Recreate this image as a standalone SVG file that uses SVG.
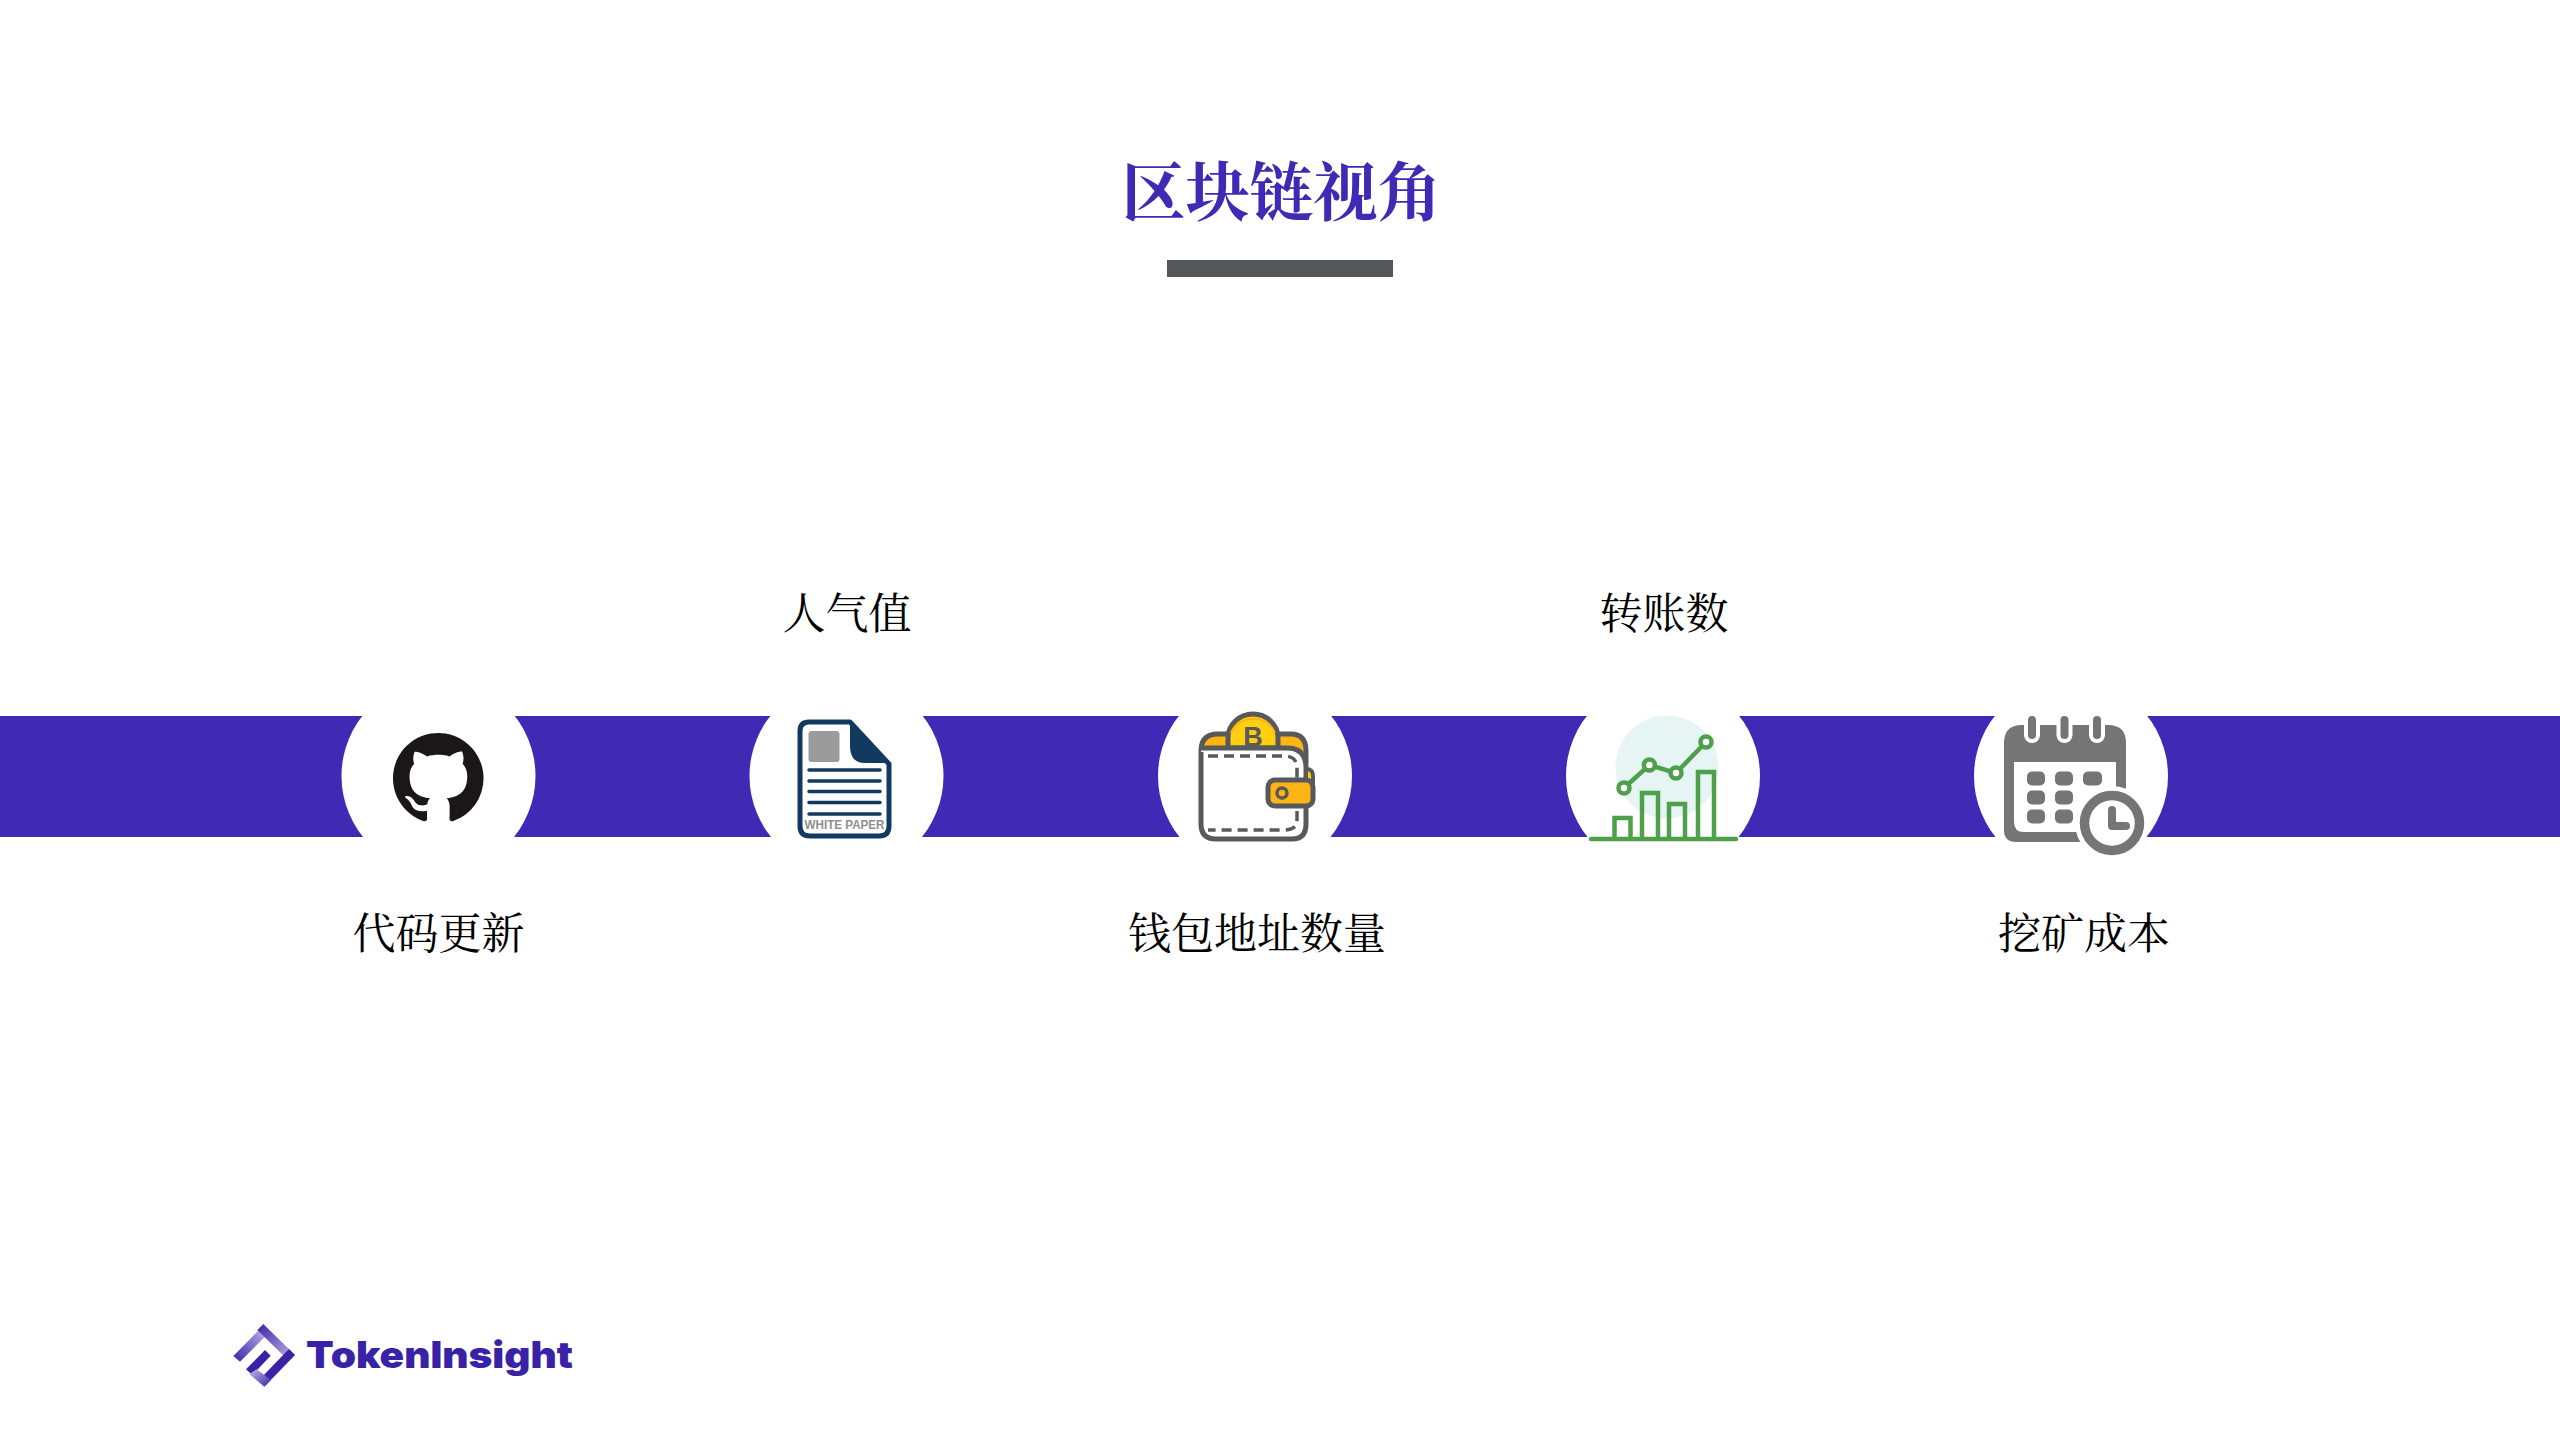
<svg xmlns="http://www.w3.org/2000/svg" width="2560" height="1440" viewBox="0 0 2560 1440">
<style>
.cjk{font-family:"Noto Serif CJK SC","Noto Sans CJK SC",serif;text-anchor:middle}
.title{font-size:64px;font-weight:700;fill:#3f2ab5}
.label{font-size:43px;fill:#000}
.hole{fill:#fff}
.dash{fill:none;stroke:#58595b;stroke-width:3.5;stroke-dasharray:10 6}
.green{fill:none;stroke:#4fa04a;stroke-width:4.5}
.pt{fill:#fff;stroke:#4fa04a;stroke-width:4.5}
.paper{stroke:#123a60;stroke-width:3.5;stroke-linecap:round}
.cal{fill:#757575}
</style>
<defs>
<linearGradient id="ga" x1="0" y1="1" x2="1" y2="0"><stop offset="0" stop-color="#3a22a8"/><stop offset="1" stop-color="#b8aee4"/></linearGradient>
<linearGradient id="gb" x1="0" y1="0" x2="1" y2="1"><stop offset="0" stop-color="#3a22a8"/><stop offset="1" stop-color="#c4bcea"/></linearGradient>
<linearGradient id="gd" x1="0" y1="0" x2="1" y2="1"><stop offset="0" stop-color="#c4bcea"/><stop offset="1" stop-color="#3a22a8"/></linearGradient>
</defs>
<rect width="2560" height="1440" fill="#fff"/>
<g id="header">
<text class="cjk title" x="1281.500" y="215">区块链视角</text>
<rect x="1167" y="260" width="226" height="17" fill="#54575a"/>
</g>
<g id="connectors">
<rect id="band" x="0" y="716" width="2560" height="121" fill="#402ab5"/>
</g>
<g id="node-code">
<circle class="hole" cx="438.500" cy="776" r="97"/>
<path transform="translate(393 733) scale(5.66)" fill="#1b1719" d="M8 0C3.58 0 0 3.58 0 8c0 3.54 2.29 6.53 5.47 7.59.4.07.55-.17.55-.38 0-.19-.01-.82-.01-1.49-2.01.37-2.53-.49-2.69-.94-.09-.23-.48-.94-.82-1.13-.28-.15-.68-.52-.01-.53.63-.01 1.08.58 1.23.82.72 1.21 1.87.87 2.33.66.07-.52.28-.87.51-1.07-1.78-.2-3.64-.89-3.64-3.95 0-.87.31-1.59.82-2.15-.08-.2-.36-1.02.08-2.12 0 0 .67-.21 2.2.82.64-.18 1.32-.27 2-.27.68 0 1.36.09 2 .27 1.53-1.04 2.2-.82 2.2-.82.44 1.1.16 1.92.08 2.12.51.56.82 1.27.82 2.15 0 3.07-1.87 3.75-3.65 3.95.29.25.54.73.54 1.48 0 1.07-.01 1.93-.01 2.2 0 .21.15.46.55.38A8.013 8.013 0 0016 8c0-4.42-3.58-8-8-8z"/>
<text class="cjk label" x="438.500" y="949">代码更新</text>
</g>
<g id="node-popularity">
<circle class="hole" cx="846.500" cy="776" r="97"/>
<path d="M809 722H850L889 764V826Q889 836 879 836H810Q800 836 800 826V731Q800 722 809 722Z" fill="#fff" stroke="#123a60" stroke-width="5" stroke-linejoin="round"/>
<path d="M850 722L891 763H865Q850 763 850 746Z" fill="#123a60"/>
<rect x="808.500" y="731" width="31" height="31" rx="3" fill="#9b9b9b"/>
<path class="paper" d="M809 770H880M809 781H880M809 791.500H880M809 802.500H880M809 814H880"/>
<text x="844.500" y="829" font-family="Liberation Sans,sans-serif" font-weight="700" font-size="12" fill="#8f8f8f" text-anchor="middle" textLength="80" lengthAdjust="spacingAndGlyphs">WHITE PAPER</text>
<text class="cjk label" x="847" y="629">人气值</text>
</g>
<g id="node-wallet">
<circle class="hole" cx="1255" cy="776" r="97"/>
<path d="M1201 751Q1201 734 1218 734H1291Q1306 734 1306 751V762Q1302 750 1290 750H1201Z" fill="#fdb515" stroke="#58595b" stroke-width="5" stroke-linejoin="round"/>
<path d="M1228 748V738A25 24 0 0 1 1278 738V748Z" fill="#ffcf10" stroke="#58595b" stroke-width="5"/>
<path d="M1231 733A23 20 0 0 1 1275 733" fill="none" stroke="#fdb515" stroke-width="2"/>
<text x="1253" y="746" font-family="Liberation Sans,sans-serif" font-weight="700" font-size="27" fill="#58595b" text-anchor="middle">B</text>
<path d="M1201 752V824Q1201 839 1216 839H1292Q1306 839 1306 824V768Q1306 748 1287 748H1201" fill="#fff" stroke="#58595b" stroke-width="5"/>
<path class="dash" d="M1208 756H1284Q1297 756 1297 768V778M1297 811V820Q1297 830 1284 830H1208"/>
<path d="M1306 769Q1313 769 1313 776V782H1306Z" fill="#ffcf10" stroke="#58595b" stroke-width="4"/>
<rect x="1268" y="780" width="45" height="26" rx="7" fill="#fdb515" stroke="#58595b" stroke-width="5"/>
<circle cx="1282" cy="793" r="5" fill="#fdb515" stroke="#58595b" stroke-width="3.500"/>
<text class="cjk label" x="1257" y="949">钱包地址数量</text>
</g>
<g id="node-transfers">
<circle class="hole" cx="1663" cy="776" r="97"/>
<circle cx="1667" cy="767" r="51.500" fill="#e6f5f4"/>
<path class="green" d="M1614.500 838V818H1630.500V838M1642 838V793H1658V838M1669 838V804H1685V838M1698 838V772H1714V838"/>
<path d="M1591 839H1736" stroke="#4fa04a" stroke-width="4.500" stroke-linecap="round"/>
<path class="green" d="M1624 788L1649.400 765L1676 773L1706 742"/>
<circle class="pt" cx="1624" cy="788" r="5.500"/>
<circle class="pt" cx="1649.400" cy="765" r="5.500"/>
<circle class="pt" cx="1676" cy="773" r="5.500"/>
<circle class="pt" cx="1706" cy="742" r="5.500"/>
<text class="cjk label" x="1664" y="629">转账数</text>
</g>
<g id="node-mining">
<circle class="hole" cx="2071" cy="776" r="97"/>
<path class="cal" fill-rule="evenodd" d="M2022 725H2108Q2126 725 2126 743V830Q2126 842 2114 842H2016Q2004 842 2004 830V743Q2004 725 2022 725ZM2014 762V822Q2014 832 2024 832H2116V762Z"/>
<g fill="#757575" stroke="#fff" stroke-width="4">
<rect x="2026" y="714" width="12" height="27" rx="6"/>
<rect x="2058.500" y="714" width="12" height="27" rx="6"/>
<rect x="2091" y="714" width="12" height="27" rx="6"/>
</g>
<g class="cal">
<rect x="2027" y="771.500" width="18" height="14" rx="5"/><rect x="2055" y="771.500" width="18" height="14" rx="5"/><rect x="2083" y="771.500" width="19" height="14" rx="5"/>
<rect x="2027" y="790.500" width="18" height="14" rx="5"/><rect x="2055" y="790.500" width="18" height="14" rx="5"/>
<rect x="2027" y="809.500" width="18" height="14" rx="5"/><rect x="2055" y="809.500" width="18" height="14" rx="5"/>
</g>
<circle cx="2112" cy="823" r="37" fill="#fff"/>
<circle cx="2112" cy="823" r="27.500" fill="#fff" stroke="#757575" stroke-width="9.500"/>
<path d="M2112 810V826H2126" fill="none" stroke="#757575" stroke-width="8" stroke-linecap="round" stroke-linejoin="round"/>
<text class="cjk label" x="2084" y="949">挖矿成本</text>
</g>
<g id="logo">
<g transform="translate(210 1300) scale(.3333)">
<polygon points="70,168 90,185 165,110 147,90" fill="url(#ga)"/>
<polygon points="160,72 255,165 237,183 142,90" fill="url(#gb)"/>
<polygon points="237,147 255,165 165,258 147,240" fill="#3a22a8"/>
<polygon points="108,208 165,150 182,167 127,225" fill="#3a22a8"/>
<polygon points="140,208 183,240 163,260 118,222" fill="url(#gd)"/>
</g>
<text x="306" y="1368" font-family="Inter,sans-serif" font-weight="900" font-size="37" fill="#3a22a8" textLength="267" lengthAdjust="spacingAndGlyphs">TokenInsight</text>
</g>
</svg>
